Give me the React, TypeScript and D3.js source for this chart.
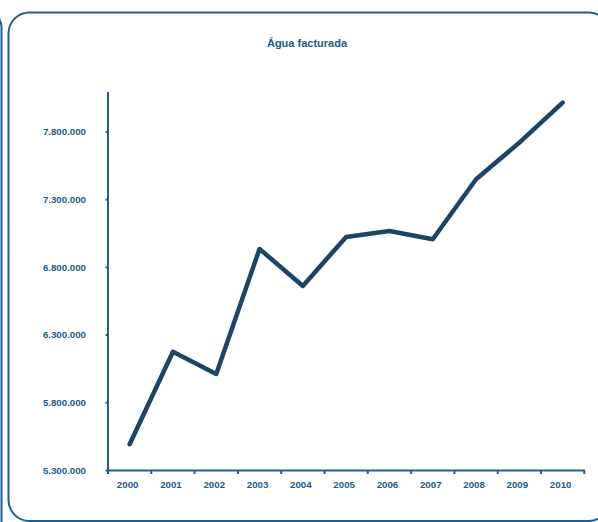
import React from "react";
import * as d3 from "d3";

const years = ["2000","2001","2002","2003","2004","2005","2006","2007","2008","2009","2010"];
const values = [5494000, 6177000, 6013000, 6936000, 6663000, 7025000, 7069000, 7008000, 7451000, 7721000, 8016000];
const yTicks = [5300000, 5800000, 6300000, 6800000, 7300000, 7800000];
const title = "Água facturada";

const W = 598, H = 522;
const textColor = "#1d5a8a";
const axisColor = "#1f5f8d";
const frameColor = "#17609a";
const lineColor = "#1c4468";
const font = "'Liberation Sans', Arial, sans-serif";

const fmt = (v: number) => d3.format(",")(v).replace(/,/g, ".");

export default function App() {
  const x = d3.scaleBand<string>().domain(years).range([108, 584.3]).padding(0);
  const y = d3.scaleLinear().domain([5300000, 8095000]).range([470.5, 92]);
  const line = d3.line<number>()
    .x((_, i) => (x(years[i]) as number) + x.bandwidth() / 2)
    .y((d) => y(d));
  const edges = years.map((yr) => x(yr) as number).concat([584.3]);
  return (
    <svg width={W} height={H} style={{ position: "absolute", left: 0, top: 0 }} fontFamily={font}>
      <rect x={-60} y={8} width={61.5} height={540} rx={20} fill="none" stroke={frameColor} strokeWidth={2} />
      <rect x={8.5} y={12.5} width={601} height={508.5} rx={21} fill="none" stroke={frameColor} strokeWidth={2} />
      <text x={307} y={47} textAnchor="middle" fontSize={11} fontWeight="bold" fill={textColor}>{title}</text>
      {/* y axis */}
      <line x1={108} x2={108} y1={92} y2={471.5} stroke={axisColor} strokeWidth={2} />
      {yTicks.map((t) => (
        <g key={t}>
          <line x1={105.5} x2={108} y1={y(t)} y2={y(t)} stroke={axisColor} strokeWidth={2} />
          <text x={86} y={y(t)} dy="0.35em" textAnchor="end" fontSize={9.7} fontWeight="bold" fill={textColor}>{fmt(t)}</text>
        </g>
      ))}
      {/* x axis */}
      <line x1={107} x2={585} y1={470.5} y2={470.5} stroke={axisColor} strokeWidth={2} />
      {edges.map((e, i) => (
        <line key={i} x1={e} x2={e} y1={470.5} y2={474} stroke={axisColor} strokeWidth={2} />
      ))}
      {years.map((yr) => (
        <text key={yr} x={(x(yr) as number) + x.bandwidth() / 2 - 2} y={488} textAnchor="middle" fontSize={9.7} fontWeight="bold" fill={textColor}>{yr}</text>
      ))}
      <path d={line(values) || ""} fill="none" stroke={lineColor} strokeWidth={4.5} strokeLinejoin="round" strokeLinecap="round" />
    </svg>
  );
}
